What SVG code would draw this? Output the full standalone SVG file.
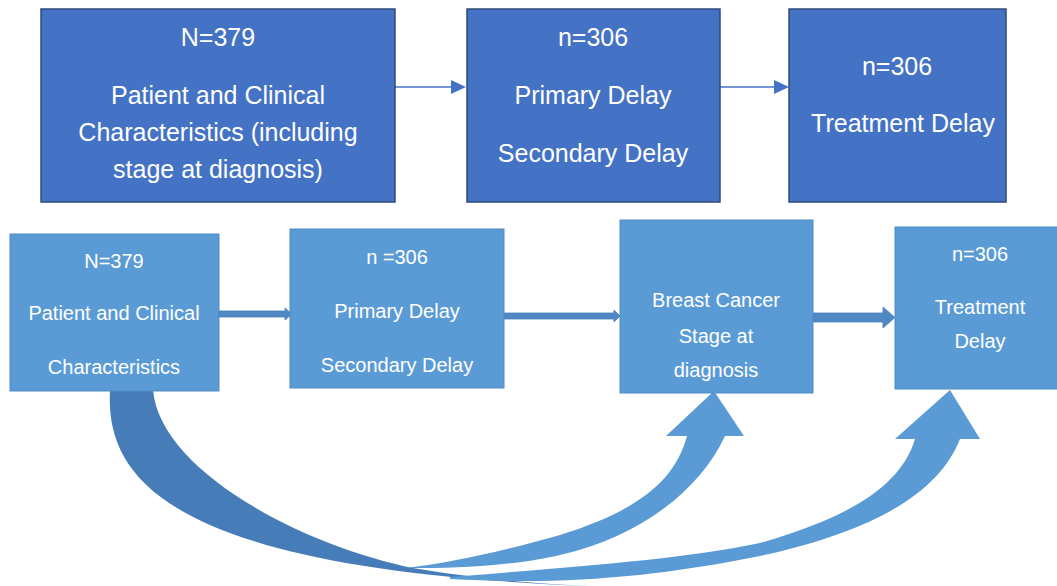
<svg xmlns="http://www.w3.org/2000/svg" width="1057" height="586" viewBox="0 0 1057 586">
<style>
.top{fill:#4472C4;stroke:#2F4B7C;stroke-width:1.5}
.bot{fill:#5B9BD5;stroke:#4F8BC4;stroke-width:1}
.tt{font-family:"Liberation Sans",Arial,sans-serif;font-size:25px;fill:#FFFFFF;text-anchor:middle}
.bt{font-family:"Liberation Sans",Arial,sans-serif;font-size:20px;fill:#FFFFFF;text-anchor:middle}
.ln{stroke:#4472C4;stroke-width:1.6;fill:none}
.hd{fill:#4472C4}
.blk{fill:#4F88C3;stroke:#4A80BA;stroke-width:0.8}
.dark{fill:#467DB9}
.light{fill:#5B9BD5}
</style>
<g id="connectors">
<line class="ln" x1="395" y1="87" x2="452" y2="87"/>
<polygon class="hd" points="451,80 466,87 451,94"/>
<line class="ln" x1="720" y1="87" x2="775" y2="87"/>
<polygon class="hd" points="774,80 789,87 774,94"/>
<polygon class="blk" points="219,311 285,311 285,308 292,314 285,320 285,317 219,317"/>
<polygon class="blk" points="504,313 614,313 614,310 620,316 614,322 614,319 504,319"/>
<polygon class="blk" points="813,313 883,313 883,307 895,317.5 883,328 883,322 813,322"/>
<path class="dark" d="M110,390 C105,480 170,570 590,586 C520,583 460,576 413,568 C300,545 160,470 153,390 Z"/>
<path class="light" d="M915,439 C900,490 840,520 760,543 C680,560 560,568 450,577 L450,579 C560,585 650,578 760,556 C880,530 940,490 960,439 Z"/>
<polygon class="light" points="895,439 950,390 980,439"/>
<path class="light" d="M687,436 C675,480 640,510 560,535 C500,552 450,563 405,568 C480,569 530,562 560,555 C640,537 700,490 725,436 Z"/>
<polygon class="light" points="666,436 714,391 744,436"/>
</g>
<g id="node-top1">
<rect class="top" x="41" y="9" width="354" height="193"/>
<text class="tt" x="218" y="46">N=379</text>
<text class="tt" x="218" y="104">Patient and Clinical</text>
<text class="tt" x="218" y="141">Characteristics (including</text>
<text class="tt" x="218" y="178">stage at diagnosis)</text>
</g>
<g id="node-top2">
<rect class="top" x="467" y="9" width="253" height="193"/>
<text class="tt" x="593" y="46">n=306</text>
<text class="tt" x="593" y="104">Primary Delay</text>
<text class="tt" x="593" y="162">Secondary Delay</text>
</g>
<g id="node-top3">
<rect class="top" x="789" y="9" width="217" height="193"/>
<text class="tt" x="897" y="75">n=306</text>
<text class="tt" x="903" y="132">Treatment Delay</text>
</g>
<g id="node-bot1">
<rect class="bot" x="10" y="234" width="209" height="157"/>
<text class="bt" x="114" y="268">N=379</text>
<text class="bt" x="114" y="320">Patient and Clinical</text>
<text class="bt" x="114" y="374">Characteristics</text>
</g>
<g id="node-bot2">
<rect class="bot" x="290" y="229" width="214" height="159"/>
<text class="bt" x="397" y="264">n =306</text>
<text class="bt" x="397" y="318">Primary Delay</text>
<text class="bt" x="397" y="372">Secondary Delay</text>
</g>
<g id="node-bot3">
<rect class="bot" x="620" y="220" width="193" height="173"/>
<text class="bt" x="716" y="307">Breast Cancer</text>
<text class="bt" x="716" y="343">Stage at</text>
<text class="bt" x="716" y="377">diagnosis</text>
</g>
<g id="node-bot4">
<rect class="bot" x="895" y="227" width="170" height="162"/>
<text class="bt" x="980" y="261">n=306</text>
<text class="bt" x="980" y="314">Treatment</text>
<text class="bt" x="980" y="348">Delay</text>
</g>
</svg>
